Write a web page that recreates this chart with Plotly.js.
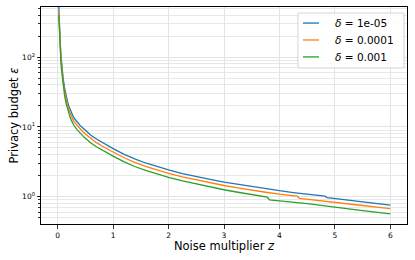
<!DOCTYPE html>
<html>
<head>
<meta charset="utf-8">
<script src="https://cdn.plot.ly/plotly-3.0.1.min.js"></script>
<style>html,body{margin:0;padding:0;background:#fff;}#chart{width:415px;height:260px;}</style>
</head>
<body>
<div id="chart"></div>
<script>
// Noise multiplier z and privacy budget epsilon for each delta
const seriesNames = ['<i>δ</i> = 1e-05', '<i>δ</i> = 0.0001', '<i>δ</i> = 0.001'];

const zBlue = [0.02,0.03,0.04,0.05,0.06,0.07,0.08,0.09,0.1,0.125,0.15,0.175,0.2,0.225,0.25,0.275,0.3,0.35,0.4,0.45,0.5,0.55,0.6,0.7,0.8,0.9,1.0,1.2,1.4,1.6,1.8,2.0,2.25,2.5,2.75,3.0,3.25,3.5,3.75,4.0,4.25,4.5,4.82,4.86,5.0,5.25,5.5,5.75,6.0];
const epsBlue = [560,300,200,140,107,85,70,58,49,36.5,28.5,23.6,20,17.6,15.8,14.4,13.3,11.8,10.6,9.7,8.9,8.2,7.6,6.7,6.0,5.4,4.9,4.05,3.45,3.02,2.68,2.42,2.15,1.94,1.77,1.62,1.50,1.39,1.30,1.22,1.15,1.09,1.02,0.975,0.947,0.90,0.86,0.81,0.76];

const zOrange = [0.02,0.03,0.04,0.05,0.06,0.07,0.08,0.09,0.1,0.125,0.15,0.175,0.2,0.225,0.25,0.275,0.3,0.35,0.4,0.45,0.5,0.55,0.6,0.7,0.8,0.9,1.0,1.2,1.4,1.6,1.8,2.0,2.25,2.5,2.75,3.0,3.25,3.5,3.75,4.0,4.32,4.36,4.5,4.75,5.0,5.25,5.5,5.75,6.0];
const epsOrange = [455,265,178,125,95,76,62,52,43.5,32.5,25.3,21,17.8,15.7,14.1,12.8,11.8,10.5,9.4,8.6,7.9,7.3,6.75,5.95,5.33,4.8,4.37,3.62,3.08,2.70,2.40,2.17,1.93,1.74,1.585,1.45,1.34,1.24,1.16,1.09,1.02,0.95,0.925,0.88,0.83,0.79,0.75,0.71,0.675];

const zGreen = [0.02,0.03,0.04,0.05,0.06,0.07,0.08,0.09,0.1,0.125,0.15,0.175,0.2,0.225,0.25,0.275,0.3,0.35,0.4,0.45,0.5,0.55,0.6,0.7,0.8,0.9,1.0,1.2,1.4,1.6,1.8,2.0,2.25,2.5,2.75,3.0,3.25,3.5,3.78,3.82,4.0,4.25,4.5,4.75,5.0,5.25,5.5,5.75,6.0];
const epsGreen = [400,232,155,109,83,66,54.5,45.5,38,28.5,22.2,18.4,15.6,13.7,12.3,11.2,10.3,9.15,8.2,7.5,6.9,6.35,5.9,5.2,4.65,4.2,3.82,3.16,2.69,2.36,2.10,1.90,1.69,1.52,1.38,1.26,1.16,1.07,0.985,0.905,0.88,0.835,0.795,0.755,0.705,0.67,0.635,0.60,0.57];

const xTicks = [0,1,2,3,4,5,6];
const yTickVals = [1,10,100];
const yTickText = ['10<sup>0</sup>','10<sup>1</sup>','10<sup>2</sup>'];

const colors = ['#1f77b4','#ff7f0e','#2ca02c'];
const xs = [zBlue, zOrange, zGreen];
const ys = [epsBlue, epsOrange, epsGreen];

const traces = xs.map((x, i) => ({
  x: x, y: ys[i], type: 'scatter', mode: 'lines', name: seriesNames[i],
  showlegend: false,
  line: {color: colors[i], width: 1.3}
}));

const font = 'DejaVu Sans, sans-serif';

// Hand-drawn legend (matplotlib style) in paper coordinates
const legX0 = 0.702, legX1 = 0.992, legY0 = 0.719, legY1 = 0.972;
const legRows = [0.926, 0.848, 0.770];
const shapes = [{
  type: 'rect', xref: 'paper', yref: 'paper',
  x0: legX0, x1: legX1, y0: legY0, y1: legY1,
  line: {color: '#d4d4d4', width: 1}, fillcolor: 'rgba(255,255,255,0.85)', layer: 'above'
}];
const annotations = [];
legRows.forEach((yy, i) => {
  shapes.push({type: 'line', xref: 'paper', yref: 'paper', x0: 0.7158, x1: 0.7596, y0: yy, y1: yy,
    line: {color: colors[i], width: 1.3}, layer: 'above'});
  annotations.push({xref: 'paper', yref: 'paper', x: 0.798, y: yy, xanchor: 'left', yanchor: 'middle',
    text: seriesNames[i], showarrow: false, font: {family: font, size: 10.5, color: '#000'}});
});

const layout = {
  width: 415, height: 260,
  margin: {l: 41, r: 8, t: 7, b: 36},
  paper_bgcolor: '#fff', plot_bgcolor: '#fff',
  font: {family: font, size: 7.5, color: '#000'},
  showlegend: false,
  shapes: shapes,
  annotations: annotations,
  xaxis: {
    range: [-0.3, 6.3], tickvals: xTicks, ticktext: xTicks.map(String),
    showline: true, mirror: true, linecolor: '#000', linewidth: 1,
    ticks: 'outside', ticklen: 3.5, tickcolor: '#000', tickwidth: 0.8,
    showgrid: true, gridcolor: '#e3e3e3', gridwidth: 1, zeroline: false,
    tickfont: {family: font, size: 7.5},
    title: {text: 'Noise multiplier <i>z</i>', font: {family: font, size: 11.5}, standoff: 2}
  },
  yaxis: {
    type: 'log', range: [-0.39, 2.717],
    tickvals: yTickVals, ticktext: yTickText,
    showline: true, mirror: true, linecolor: '#000', linewidth: 1,
    ticks: 'outside', ticklen: 3.5, tickcolor: '#000', tickwidth: 0.8,
    showgrid: true, gridcolor: '#e3e3e3', gridwidth: 1, zeroline: false,
    tickfont: {family: font, size: 7.5},
    minor: {dtick: 'D1', ticks: 'outside', ticklen: 2, tickcolor: '#000', showgrid: true, gridcolor: '#e8e8e8', gridwidth: 1},
    title: {text: 'Privacy budget <i>ε</i>', font: {family: font, size: 11.5}, standoff: 1}
  }
};

Plotly.newPlot('chart', traces, layout, {staticPlot: true, displayModeBar: false});
</script>
</body>
</html>
